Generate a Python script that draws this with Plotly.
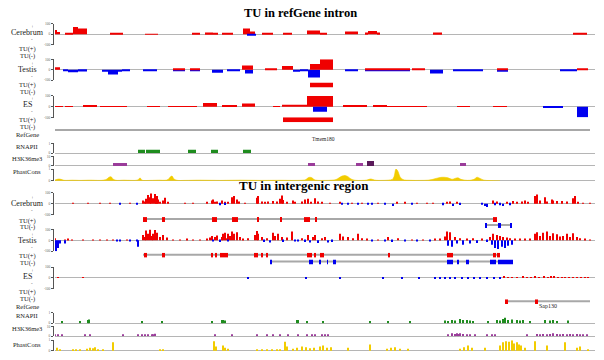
import plotly.graph_objects as go

W, H = 604, 360
SERIF = "Liberation Serif"
RED, BLUE, GREEN, PURPLE, DPURPLE, YELLOW = "#f00000", "#0000f0", "#1e8c1e", "#9a3c9a", "#5a1a5a", "#f2cc00"
GRAY = "#b5b5b5"

# ---------------- DATA (genomic window in arbitrary bins) ----------------
WINDOW = [55, 595]

# Top panel: TU in refGene intron  (segments: start, end, value)
top_cer_pos_start = [54, 57, 65, 73, 78, 110, 145, 192, 205, 213, 222, 243, 250, 262, 283, 307, 320, 345, 365, 368, 377, 433, 573]
top_cer_pos_end   = [57, 60, 73, 78, 87, 123, 158, 200, 213, 218, 233, 250, 255, 273, 292, 320, 327, 358, 368, 377, 380, 442, 587]
top_cer_pos_val   = [40, 20, 5, 70, 55, 8, 3, 10, 15, 8, 12, 55, 25, 5, 8, 35, 10, 25, 15, 30, 15, 15, 5]
top_cer_neg_start = [247]
top_cer_neg_end   = [256]
top_cer_neg_val   = [-15]

top_tes_pos_start = [54, 173, 190, 242, 265, 282, 310, 320, 365, 383, 412, 497, 577]
top_tes_pos_end   = [60, 185, 200, 253, 277, 293, 320, 333, 383, 410, 425, 508, 588]
top_tes_pos_val   = [25, 15, 8, 40, 8, 35, 55, 100, 15, 5, 15, 5, 8]
top_tes_neg_start = [63, 68, 78, 102, 108, 118, 122, 143, 173, 190, 212, 227, 245, 293, 300, 308, 345, 365, 383, 430, 453, 497, 560]
top_tes_neg_end   = [68, 78, 87, 108, 118, 122, 130, 157, 185, 200, 223, 240, 253, 300, 308, 320, 358, 383, 410, 443, 483, 508, 577]
top_tes_neg_val   = [-15, -25, -18, -20, -45, -20, -8, -15, -15, -12, -30, -8, -35, -20, -10, -75, -8, -10, -8, -35, -10, -20, -10]

top_es_pos_start = [53, 65, 83, 100, 147, 168, 203, 222, 242, 273, 282, 300, 307, 343, 373, 387, 457, 493]
top_es_pos_end   = [63, 73, 97, 127, 160, 197, 217, 237, 255, 280, 300, 307, 333, 367, 387, 427, 470, 507]
top_es_pos_val   = [5, 5, 15, 8, 8, 5, 35, 15, 30, 3, 20, 20, 100, 10, 15, 6, 3, 3]
top_es_neg_start = [313, 543, 577]
top_es_neg_end   = [327, 563, 588]
top_es_neg_val   = [-45, -8, -100]

top_tes_tu_plus = [(310, 333)]
top_es_tu_plus = [(283, 333)]
top_gene_name = "Tmem180"
top_gene_span = (55, 590)
top_gene_label_pos = 323

top_rnapii_start = [138, 146, 153, 188, 211, 243]
top_rnapii_end   = [145, 153, 160, 196, 218, 251]
top_rnapii_val   = [0.35, 0.35, 0.35, 0.35, 0.35, 0.35]

top_h3k_start = [113, 308, 356, 367, 460]
top_h3k_end   = [127, 315, 363, 374, 466]
top_h3k_val   = [3, 3, 3, 5, 3]

top_phast_x = [55, 57, 59, 61, 63, 66, 72, 80, 90, 100, 104, 107, 109, 111, 113, 116, 124, 132, 137, 139, 140, 142,
               150, 160, 165, 168, 170, 172, 174, 177, 185, 200, 220, 240, 260, 280, 295, 303, 306, 308, 310, 312,
               314, 317, 325, 332, 336, 339, 342, 345, 348, 351, 355, 362, 367, 369, 371, 373, 376, 382, 388, 392,
               394, 396, 398, 400, 403, 410, 420, 428, 432, 436, 440, 444, 448, 452, 455, 458, 461, 465, 470, 474,
               477, 480, 484, 490, 500]
top_phast_v = [0.06, 0.12, 0.15, 0.12, 0.06, 0.03, 0.05, 0.03, 0.05, 0.03, 0.06, 0.15, 0.3, 0.35, 0.15, 0.04, 0.05,
               0.03, 0.05, 0.15, 0.25, 0.05, 0.03, 0.05, 0.04, 0.1, 0.3, 0.4, 0.15, 0.04, 0.03, 0.05, 0.03, 0.05,
               0.03, 0.04, 0.03, 0.05, 0.1, 0.25, 0.3, 0.25, 0.1, 0.04, 0.03, 0.05, 0.1, 0.25, 0.4, 0.45, 0.35,
               0.15, 0.04, 0.03, 0.06, 0.12, 0.15, 0.1, 0.04, 0.03, 0.05, 0.1, 0.35, 1.0, 0.8, 0.35, 0.1, 0.04,
               0.03, 0.05, 0.1, 0.2, 0.28, 0.3, 0.25, 0.12, 0.2, 0.25, 0.12, 0.05, 0.04, 0.12, 0.3, 0.2, 0.05,
               0.02, 0.0]

# Bottom panel: TU in intergenic region (spikes: position, value)
bot_cer_pos_x = [73, 88, 100, 110, 130, 143, 145, 146, 148, 150, 151, 153, 155, 156, 157, 158, 160, 163, 165, 168, 185,
                 193, 207, 212, 213, 215, 217, 222, 225, 228, 232, 234, 237, 239, 245, 257, 258, 262, 265, 268, 273,
                 277, 280, 282, 283, 287, 293, 295, 302, 305, 308, 311, 315, 318, 322, 330, 340, 352, 362, 378, 397,
                 405, 417, 427, 433, 447, 450, 457, 493, 497, 507, 513, 517, 522, 525, 528, 535, 537, 540, 545, 547,
                 552, 553, 557, 562, 567, 573, 575, 578, 583, 590]
bot_cer_pos_v = [3, 2, 3, 2, 3, 30, 20, 45, 80, 60, 95, 50, 90, 60, 70, 40, 15, 30, 55, 10, 8,
                 5, 10, 30, 40, 15, 20, 30, 10, 15, 60, 70, 40, 20, 8, 55, 70, 20, 15, 20, 25,
                 20, 45, 75, 35, 10, 30, 15, 20, 40, 45, 15, 50, 20, 10, 4, 10, 8, 5, 5, 10,
                 15, 5, 8, 5, 15, 20, 10, 30, 20, 15, 25, 10, 20, 30, 15, 70, 85, 30, 60, 20,
                 40, 30, 25, 25, 20, 50, 70, 15, 5, 3]
bot_cer_neg_x = [120, 137, 220, 225, 342, 348, 358, 368, 372, 385, 393, 412, 443, 453, 460, 482, 485, 487, 495, 500, 503, 510]
bot_cer_neg_v = [-8, -3, -15, -12, -8, -5, -8, -8, -5, -5, -20, -5, -15, -20, -12, -10, -20, -30, -15, -15, -20, -15]

bot_tes_pos_x = [55, 65, 68, 72, 83, 93, 100, 107, 113, 127, 143, 145, 146, 148, 150, 152, 153, 155, 157, 160, 163, 167,
                 173, 180, 187, 193, 200, 207, 210, 212, 215, 217, 222, 223, 225, 227, 228, 230, 232, 234, 237, 240,
                 243, 248, 255, 257, 258, 262, 267, 273, 275, 278, 282, 287, 292, 302, 308, 313, 315, 322, 325, 340,
                 343, 348, 353, 358, 362, 367, 378, 388, 398, 412, 423, 435, 440, 445, 447, 450, 455, 460, 467, 473,
                 482, 490, 493, 497, 500, 503, 507, 510, 515, 520, 525, 530, 535, 537, 540, 543, 547, 550, 553, 557,
                 560, 563, 567, 570, 573, 577, 580, 585, 590]
bot_tes_pos_v = [20, 5, 10, 5, 8, 3, 5, 5, 8, 5, 50, 30, 90, 60, 100, 40, 60, 95, 70, 30, 50, 25,
                 8, 5, 10, 8, 5, 10, 25, 40, 30, 45, 30, 60, 70, 20, 60, 40, 80, 60, 75, 30,
                 15, 20, 50, 85, 60, 30, 20, 70, 40, 60, 30, 25, 80, 20, 50, 30, 50, 20, 30, 60,
                 35, 30, 20, 60, 20, 10, 5, 30, 20, 5, 5, 10, 15, 35, 80, 75, 30, 20, 15, 20,
                 10, 30, 60, 50, 40, 30, 25, 20, 15, 10, 15, 10, 60, 75, 40, 70, 80, 40, 65, 55,
                 35, 40, 60, 30, 65, 30, 20, 15, 5]
bot_tes_neg_x = [56, 58, 60, 65, 117, 120, 130, 137, 138, 213, 220, 228, 264, 270, 283, 295, 298, 305, 310, 318, 328,
                 332, 372, 385, 392, 405, 417, 430, 448, 452, 457, 463, 470, 477, 487, 492, 495, 498, 502, 505, 508, 512]
bot_tes_neg_v = [-100, -70, -30, -30, -8, -5, -8, -10, -60, -10, -15, -10, -15, -20, -15, -10, -10, -15, -20, -25, -20,
                 -15, -10, -10, -15, -5, -5, -5, -50, -60, -30, -40, -30, -25, -15, -40, -70, -80, -60, -70, -50, -40]

bot_es_pos_x = [58, 83, 504, 508, 512, 517, 523, 527, 531, 535, 539, 544, 548, 551, 554, 558, 562, 565, 569, 573, 577, 581, 585, 588]
bot_es_pos_v = [5, 5, 15, 5, 8, 5, 10, 5, 8, 10, 6, 15, 8, 10, 10, 6, 8, 8, 5, 6, 8, 5, 6, 4]
bot_es_neg_x = [248, 306, 340, 383, 402, 419, 435, 440, 445, 450, 455, 462, 468, 474, 480, 487, 494, 500]
bot_es_neg_v = [-5, -3, -3, -3, -3, -3, -4, -3, -5, -3, -4, -3, -5, -3, -4, -3, -5, -4]

bot_cer_tu_plus_span = (143, 497)
bot_cer_tu_plus = [(143, 147), (162, 165), (212, 217), (232, 238), (257, 259), (280, 282), (304, 310), (315, 317), (493, 497)]
bot_cer_tu_minus_span = (485, 512)
bot_cer_tu_minus = [(485, 487), (498, 501), (510, 512)]
bot_tes_tu_plus_span = (143, 500)
bot_tes_tu_plus = [(144, 147), (162, 165), (211, 213), (215, 217), (220, 228), (254, 258), (261, 263), (266, 268),
                   (307, 312), (314, 316), (320, 324), (388, 390), (447, 453), (493, 496), (497, 500)]
bot_tes_tu_minus_span = (270, 513)
bot_tes_tu_minus = [(270, 272), (309, 313), (319, 321), (327, 328), (333, 336), (447, 453), (457, 459), (466, 469),
                    (490, 496), (498, 513)]
bot_gene_name = "Sap130"
bot_gene_span = (506, 590)
bot_gene_exons = [(505, 508), (535, 538)]
bot_gene_label_pos = 548

bot_rnapii_x = [62, 80, 88, 89, 142, 162, 212, 222, 223, 225, 297, 298, 307, 323, 370, 388, 410, 445, 448, 452, 455,
                460, 463, 467, 470, 473, 488, 497, 500, 503, 505, 508, 512, 517, 520, 523, 530, 545, 550, 553, 557, 568]
bot_rnapii_v = [0.2, 0.2, 0.3, 0.35, 0.2, 0.2, 0.2, 0.3, 0.3, 0.25, 0.3, 0.3, 0.2, 0.2, 0.2, 0.2, 0.2, 0.25, 0.2, 0.3,
                0.25, 0.4, 0.3, 0.3, 0.25, 0.2, 0.2, 0.3, 0.25, 0.4, 0.5, 0.3, 0.35, 0.3, 0.25, 0.3, 0.2, 0.3, 0.25,
                0.3, 0.2, 0.25]

bot_h3k_x = [55, 58, 62, 85, 90, 123, 138, 142, 145, 148, 152, 153, 155, 215, 232, 257, 267, 273, 280, 288, 298, 307,
             312, 315, 322, 325, 328, 448, 452, 455, 457, 458, 460, 463, 467, 470, 475, 487, 492, 495, 527, 537, 540,
             543, 547, 550, 553, 557, 560, 563, 567, 570, 573, 577, 580, 583, 587]
bot_h3k_v = [1.5, 1.5, 1.5, 1.5, 1.5, 1.5, 1.5, 1.5, 1.5, 1.5, 1.5, 1.5, 2.5, 1.5, 1.5, 1.5, 1.5, 1.5, 1.5, 1.5, 1.5,
             1.5, 1.5, 1.5, 1.5, 1.5, 1.5, 1.5, 3, 2, 3, 2, 3, 2, 1.5, 1.5, 1.5, 1.5, 1.5, 1.5, 1.5, 2, 1.5, 2,
             1.5, 2, 3, 2, 1.5, 2, 1.5, 2, 1.5, 2, 1.5, 1.5, 1.5]

bot_phast_x = [57, 60, 73, 76, 80, 87, 90, 93, 95, 98, 103, 113, 160, 163, 214, 216, 223, 225, 228, 257, 262, 267, 272,
               277, 280, 285, 287, 293, 297, 302, 306, 310, 314, 320, 323, 327, 331, 348, 370, 387, 391, 395, 400,
               408, 460, 464, 468, 472, 485, 500, 503, 506, 509, 512, 514, 517, 519, 521, 525, 535, 547, 565, 577,
               580, 588]
bot_phast_v = [0.3, 0.15, 0.08, 0.1, 0.08, 0.2, 0.3, 0.25, 0.35, 0.15, 0.1, 0.8, 0.12, 0.15, 0.9, 0.4, 0.5, 0.3, 0.2,
               0.1, 0.12, 0.1, 0.15, 0.1, 0.12, 0.85, 0.4, 0.2, 0.3, 0.4, 0.35, 0.25, 0.3, 0.4, 0.5, 0.3, 0.35, 0.3,
               0.6, 0.2, 0.3, 0.35, 0.2, 0.2, 0.2, 0.35, 0.5, 0.3, 0.3, 0.5, 0.8, 0.9, 0.85, 1.0, 0.7, 0.8, 0.6,
               0.5, 0.3, 0.9, 0.5, 0.8, 0.3, 0.4, 0.1]

# ---------------- FIGURE ----------------
fig = go.Figure()
layout = {}
annotations = []
count = [0]
XDOM = [55 / W, 595 / W]
AXPOS = 53 / W


def yax(top, bot, **kw):
    count[0] += 1
    n = count[0]
    name = "yaxis" if n == 1 else f"yaxis{n}"
    ref = "y" if n == 1 else f"y{n}"
    d = dict(domain=[1 - bot / H, 1 - top / H], anchor="free", position=AXPOS,
             showgrid=False, fixedrange=True)
    d.update(kw)
    layout[name] = d
    return ref


def signal_axis(top, bot):
    return yax(top, bot, range=[-100, 100], showline=True, linecolor="#555", linewidth=1,
               ticks="outside", ticklen=2, tickcolor="#555", tickvals=[-100, 0, 100],
               ticktext=["-100", "0", "100"], tickfont=dict(size=3.5, color="#666", family=SERIF),
               zeroline=True, zerolinecolor=GRAY, zerolinewidth=1)


def small_axis(top, bot, vmax, label):
    return yax(top, bot, range=[-0.02 * vmax, vmax], showline=True, linecolor="#555", linewidth=1,
               ticks="outside", ticklen=2, tickcolor="#555", tickvals=[0, vmax],
               ticktext=["0", label], tickfont=dict(size=3.5, color="#666", family=SERIF),
               zeroline=True, zerolinecolor=GRAY, zerolinewidth=1)


def row_axis(center, half=2.5):
    return yax(center - half, center + half, range=[0, 1], visible=False)


def seg_bars(xa, ya, starts, ends, vals, color):
    fig.add_trace(go.Bar(x=[(s + e) / 2 for s, e in zip(starts, ends)],
                         width=[e - s for s, e in zip(starts, ends)], y=vals,
                         marker=dict(color=color, line=dict(width=0)), xaxis=xa, yaxis=ya,
                         showlegend=False, hoverinfo="skip"))


def spikes(xa, ya, xs, vs, color, w=1.0):
    fig.add_trace(go.Bar(x=xs, y=vs, width=w, marker=dict(color=color, line=dict(width=0)),
                         xaxis=xa, yaxis=ya, showlegend=False, hoverinfo="skip"))


def blocks(xa, ya, exons, color, span=None):
    if span is not None:
        fig.add_trace(go.Bar(x=[(span[0] + span[1]) / 2], width=[span[1] - span[0]], y=[0.2], base=[0.4],
                             marker=dict(color="#a8a8a8", line=dict(width=0)), xaxis=xa, yaxis=ya,
                             showlegend=False, hoverinfo="skip"))
    if exons:
        fig.add_trace(go.Bar(x=[(s + e) / 2 for s, e in exons], width=[e - s for s, e in exons],
                             y=[1] * len(exons), base=[0] * len(exons),
                             marker=dict(color=color, line=dict(width=0)), xaxis=xa, yaxis=ya,
                             showlegend=False, hoverinfo="skip"))


def label(text, py, px=27, size=6.5):
    annotations.append(dict(text=text, x=px / W, y=1 - py / H, xref="paper", yref="paper",
                            showarrow=False, xanchor="center", yanchor="middle",
                            font=dict(family=SERIF, size=size, color="#222")))


def sig_label(name, py):
    label(name, py, size=8)
    label("+", py - 6, px=32, size=5)
    label("-", py + 7, px=32, size=5)


# ---- top panel ----
XA = "x"
a = signal_axis(22, 43)
seg_bars(XA, a, top_cer_pos_start, top_cer_pos_end, top_cer_pos_val, RED)
seg_bars(XA, a, top_cer_neg_start, top_cer_neg_end, top_cer_neg_val, BLUE)
sig_label("Cerebrum", 31)
label("TU(+)", 47.5); label("TU(-)", 54.5)

a = signal_axis(58, 79)
seg_bars(XA, a, top_tes_neg_start, top_tes_neg_end, top_tes_neg_val, BLUE)
seg_bars(XA, a, top_tes_pos_start, top_tes_pos_end, top_tes_pos_val, RED)
sig_label("Testis", 68)
a = row_axis(84)
blocks(XA, a, top_tes_tu_plus, RED)
label("TU(+)", 84); label("TU(-)", 91)

a = signal_axis(95, 117)
seg_bars(XA, a, top_es_pos_start, top_es_pos_end, top_es_pos_val, RED)
seg_bars(XA, a, top_es_neg_start, top_es_neg_end, top_es_neg_val, BLUE)
sig_label("ES", 104)
a = row_axis(119)
blocks(XA, a, top_es_tu_plus, RED)
label("TU(+)", 119); label("TU(-)", 126)

a = row_axis(130)
blocks(XA, a, [], RED, span=top_gene_span)
label("RefGene", 133.5)
annotations.append(dict(text=top_gene_name, x=top_gene_label_pos, y=1 - 139 / H, xref="x", yref="paper",
                        showarrow=False, font=dict(family=SERIF, size=5.5, color="#222")))

a = small_axis(143, 153, 1, "1")
seg_bars(XA, a, top_rnapii_start, top_rnapii_end, top_rnapii_val, GREEN)
label("RNAPII", 146)
a = small_axis(156, 166, 10, "10")
seg_bars(XA, a, top_h3k_start, top_h3k_end, top_h3k_val,
         [DPURPLE if v > 4 else PURPLE for v in top_h3k_val])
label("H3K36me3", 158.5)
a = small_axis(169, 181, 1, "1")
fig.add_trace(go.Scatter(x=top_phast_x, y=top_phast_v, mode="lines", fill="tozeroy",
                         line=dict(color=YELLOW, width=0.6, shape="spline"), fillcolor=YELLOW,
                         xaxis=XA, yaxis=a, showlegend=False, hoverinfo="skip"))
label("PhastCons", 171)

# ---- bottom panel ----
XB = "x2"
a = signal_axis(193, 215)
spikes(XB, a, bot_cer_pos_x, bot_cer_pos_v, RED)
spikes(XB, a, bot_cer_neg_x, bot_cer_neg_v, BLUE)
sig_label("Cerebrum", 204)
a = row_axis(220)
blocks(XB, a, bot_cer_tu_plus, RED, span=bot_cer_tu_plus_span)
a = row_axis(226)
blocks(XB, a, bot_cer_tu_minus, BLUE, span=bot_cer_tu_minus_span)
label("TU(+)", 221); label("TU(-)", 228)

a = signal_axis(230, 252)
spikes(XB, a, bot_tes_pos_x, bot_tes_pos_v, RED)
spikes(XB, a, bot_tes_neg_x, bot_tes_neg_v, BLUE)
sig_label("Testis", 241)
a = row_axis(256)
blocks(XB, a, bot_tes_tu_plus, RED, span=bot_tes_tu_plus_span)
a = row_axis(263)
blocks(XB, a, bot_tes_tu_minus, BLUE, span=bot_tes_tu_minus_span)
label("TU(+)", 257); label("TU(-)", 264)

a = signal_axis(268, 290)
spikes(XB, a, bot_es_pos_x, bot_es_pos_v, RED)
spikes(XB, a, bot_es_neg_x, bot_es_neg_v, BLUE)
sig_label("ES", 278)
label("TU(+)", 293.5); label("TU(-)", 300.5)

a = row_axis(303)
blocks(XB, a, bot_gene_exons, RED, span=bot_gene_span)
label("RefGene", 307.5)
annotations.append(dict(text=bot_gene_name, x=bot_gene_label_pos, y=1 - 312 / H, xref="x2", yref="paper",
                        showarrow=False, font=dict(family=SERIF, size=6, color="#222")))

a = small_axis(314, 325, 1, "1")
spikes(XB, a, bot_rnapii_x, bot_rnapii_v, GREEN, w=0.8)
label("RNAPII", 317)
a = small_axis(328, 338, 10, "10")
spikes(XB, a, bot_h3k_x, bot_h3k_v, PURPLE, w=1.0)
label("H3K36me3", 330)
a = small_axis(342, 353, 1, "1")
spikes(XB, a, bot_phast_x, bot_phast_v, YELLOW, w=1.4)
label("PhastCons", 346)

# titles
annotations.append(dict(text="<b>TU in refGene intron</b>", x=300 / W, y=1 - 2 / H, xref="paper", yref="paper",
                        showarrow=False, xanchor="center", yanchor="top",
                        font=dict(family=SERIF, size=12.5, color="#000")))
annotations.append(dict(text="<b>TU in intergenic region</b>", x=304 / W, y=1 - 186 / H, xref="paper",
                        yref="paper", showarrow=False, font=dict(family=SERIF, size=13, color="#000")))

layout["xaxis"] = dict(domain=XDOM, range=WINDOW, visible=False, anchor="free", position=0, fixedrange=True)
layout["xaxis2"] = dict(domain=XDOM, range=WINDOW, visible=False, anchor="free", position=0, fixedrange=True)

fig.update_layout(width=W, height=H, margin=dict(l=0, r=0, t=0, b=0), paper_bgcolor="white",
                  plot_bgcolor="white", barmode="overlay", showlegend=False, annotations=annotations,
                  **layout)
fig.write_html("out.html", config={"displayModeBar": False},
               post_script="document.body.style.margin='0';document.body.style.overflow='hidden';")
